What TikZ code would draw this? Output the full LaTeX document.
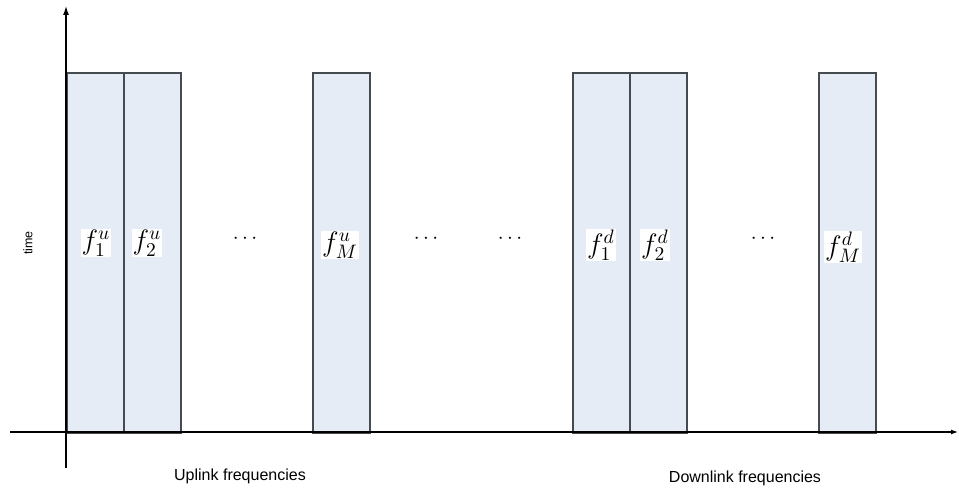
\documentclass[tikz,border=0pt]{standalone}
\usepackage{fontspec}
\setsansfont{Liberation Sans}
\usetikzlibrary{arrows.meta}
\definecolor{bandfill}{RGB}{230,236,246}
\definecolor{bandline}{RGB}{70,75,80}
\begin{document}
\begin{tikzpicture}[x=1pt,y=-1pt,
  band/.style={draw=bandline,line width=1.6pt,fill=bandfill,minimum width=57pt,minimum height=360pt,inner sep=0pt,anchor=north west},
  flab/.style={fill=white,inner sep=0.5pt,font=\Large,scale=1.95},
  dotslab/.style={font=\Large,scale=1.45},
  axis/.style={line width=1.2pt,black},
  caption/.style={font=\sffamily\fontsize{16}{19}\selectfont}]
\useasboundingbox (0,0) rectangle (959,489);
% bands
\node[band] (u1) at (66,72) {};
\node[band] (u2) at (123,72) {};
\node[band] (uM) at (312,72) {};
\node[band] (d1) at (572,72) {};
\node[band] (d2) at (629,72) {};
\node[band] (dM) at (818,72) {};
% axes
\coordinate (ybot) at (66,468);
\coordinate (ytop) at (66,6);
\coordinate (xl) at (10,432);
\coordinate (xr) at (958,432);
\draw[axis,-{Latex[length=9pt,width=6pt]}] (ybot) -- (ytop);
\draw[axis,-{Latex[length=7pt,width=5pt]}] (xl) -- (xr);
% labels
\node[flab] (lu1) at (96,243) {$f_1^u$};
\node[flab] (lu2) at (147,243) {$f_2^u$};
\node[dotslab] (e1) at (245,239) {$\cdots$};
\node[flab] (luM) at (340,245) {$f_M^u$};
\node[dotslab] (e2) at (426,239) {$\cdots$};
\node[dotslab] (e3) at (510,239) {$\cdots$};
\node[flab] (ld1) at (601,245) {$f_1^d$};
\node[flab] (ld2) at (655,245) {$f_2^d$};
\node[dotslab] (e4) at (763,239) {$\cdots$};
\node[flab] (ldM) at (843,247) {$f_M^d$};
\node[caption] (up) at (240,476) {Uplink frequencies};
\node[caption] (down) at (745,478) {Downlink frequencies};
\node[font=\sffamily\fontsize{12.5}{14}\selectfont,rotate=90] (time) at (28,243) {time};
\end{tikzpicture}
\end{document}
